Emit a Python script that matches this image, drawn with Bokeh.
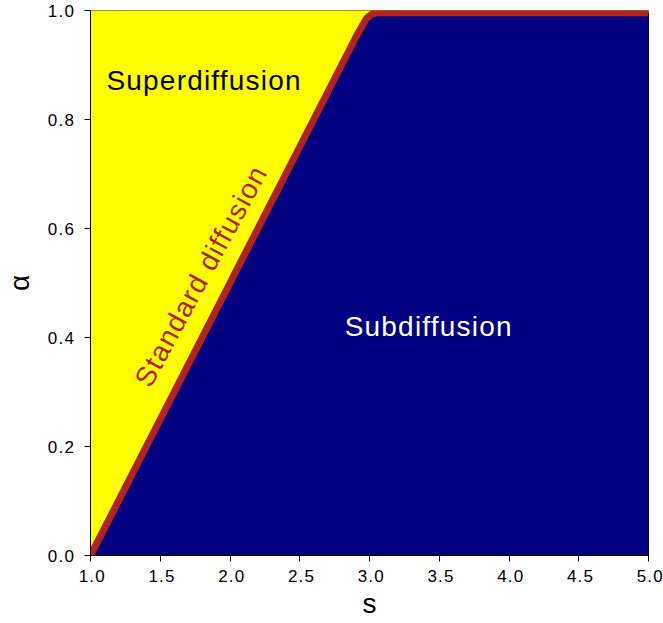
from bokeh.plotting import figure
from bokeh.models import Range1d, FixedTicker, PrintfTickFormatter, InlineStyleSheet
from bokeh.core.properties import value
from bokeh.embed import file_html
from bokeh.resources import INLINE
import math

# ---- data ----
s_ticks = [1.0, 1.5, 2.0, 2.5, 3.0, 3.5, 4.0, 4.5, 5.0]
alpha_ticks = [0.0, 0.2, 0.4, 0.6, 0.8, 1.0]
s_limits = [1.0, 5.0]
alpha_limits = [0.0, 1.0]

# boundary between super- and sub-diffusion (standard diffusion line)
boundary_s = [1.0, 1.5, 2.0, 2.5, 2.9, 2.95, 2.98, 3.02, 3.06, 3.5, 4.0, 4.5, 5.0]
boundary_alpha = [0.0, 0.25, 0.5, 0.75, 0.95, 0.973, 0.986, 0.994, 0.996, 0.996, 0.996, 0.996, 0.996]

region_labels = ["Superdiffusion", "Subdiffusion"]
region_s = [1.81, 3.42]
region_alpha = [0.871, 0.42]

line_label = ["Standard diffusion"]
line_label_s = [1.79]
line_label_alpha = [0.512]

YELLOW = "#FFFF00"
NAVY = "#000080"
RED = "#B22222"
FONT = "Liberation Sans"
LS = 1.2          # letter spacing, px
ANGLE = 61.5      # deg

p = figure(width=663, height=622,
           x_range=Range1d(s_limits[0], s_limits[1]),
           y_range=Range1d(alpha_limits[0], alpha_limits[1]),
           output_backend="svg", toolbar_location=None,
           min_border_left=90, min_border_right=15,
           min_border_top=10, min_border_bottom=67)

p.stylesheets = [InlineStyleSheet(css=":host { letter-spacing: %spx; }" % LS)]

# yellow region (above boundary)
yx = boundary_s + [s_limits[1], s_limits[0]]
yy = boundary_alpha + [alpha_limits[1], alpha_limits[1]]
p.patch(yx, yy, fill_color=YELLOW, line_color=YELLOW, line_width=1)

# navy region (below boundary)
bx = boundary_s + [s_limits[1]]
by = boundary_alpha + [alpha_limits[0]]
p.patch(bx, by, fill_color=NAVY, line_color=NAVY, line_width=1)

# standard diffusion line
p.line(boundary_s, boundary_alpha, line_color=RED, line_width=7, line_join="round")

def shift(n):
    return -(n - 1) * LS / 2.0

p.text(region_s[:1], region_alpha[:1], text=region_labels[:1], text_font=value(FONT),
       text_font_size="28px", text_color="black", text_align="center", text_baseline="alphabetic",
       x_offset=shift(len(region_labels[0])))
p.text(region_s[1:], region_alpha[1:], text=region_labels[1:], text_font=value(FONT),
       text_font_size="28px", text_color="white", text_align="center", text_baseline="alphabetic",
       x_offset=shift(len(region_labels[1])))
d = shift(len(line_label[0]))
p.text(line_label_s, line_label_alpha, text=line_label, text_font=value(FONT),
       text_font_size="28px", text_color=RED, text_align="center", text_baseline="middle",
       angle=ANGLE, angle_units="deg",
       x_offset=d * math.cos(math.radians(ANGLE)), y_offset=-d * math.sin(math.radians(ANGLE)))

p.xgrid.visible = False
p.ygrid.visible = False
p.outline_line_color = "black"
p.outline_line_width = 1
p.background_fill_color = "white"
p.border_fill_color = "white"

for ax in (p.xaxis[0], p.yaxis[0]):
    ax.axis_line_color = "black"
    ax.axis_line_width = 1
    ax.major_tick_line_color = "black"
    ax.major_tick_in = 0
    ax.major_tick_out = 6
    ax.minor_tick_line_color = None
    ax.major_label_text_font = FONT
    ax.major_label_text_font_size = "17px"
    ax.major_label_text_color = "black"
    ax.axis_label_text_font = FONT
    ax.axis_label_text_font_size = "28px"
    ax.axis_label_text_font_style = "normal"
    ax.axis_label_text_color = "black"
    ax.formatter = PrintfTickFormatter(format="%.1f")

p.xaxis[0].ticker = FixedTicker(ticks=s_ticks)
p.yaxis[0].ticker = FixedTicker(ticks=alpha_ticks)
p.xaxis[0].axis_label = "s"
p.yaxis[0].axis_label = "α"
p.xaxis[0].major_label_standoff = 8
p.yaxis[0].major_label_standoff = 13
p.xaxis[0].axis_label_standoff = 3
p.yaxis[0].axis_label_standoff = 10

open("out.html", "w").write(file_html(p, INLINE))
